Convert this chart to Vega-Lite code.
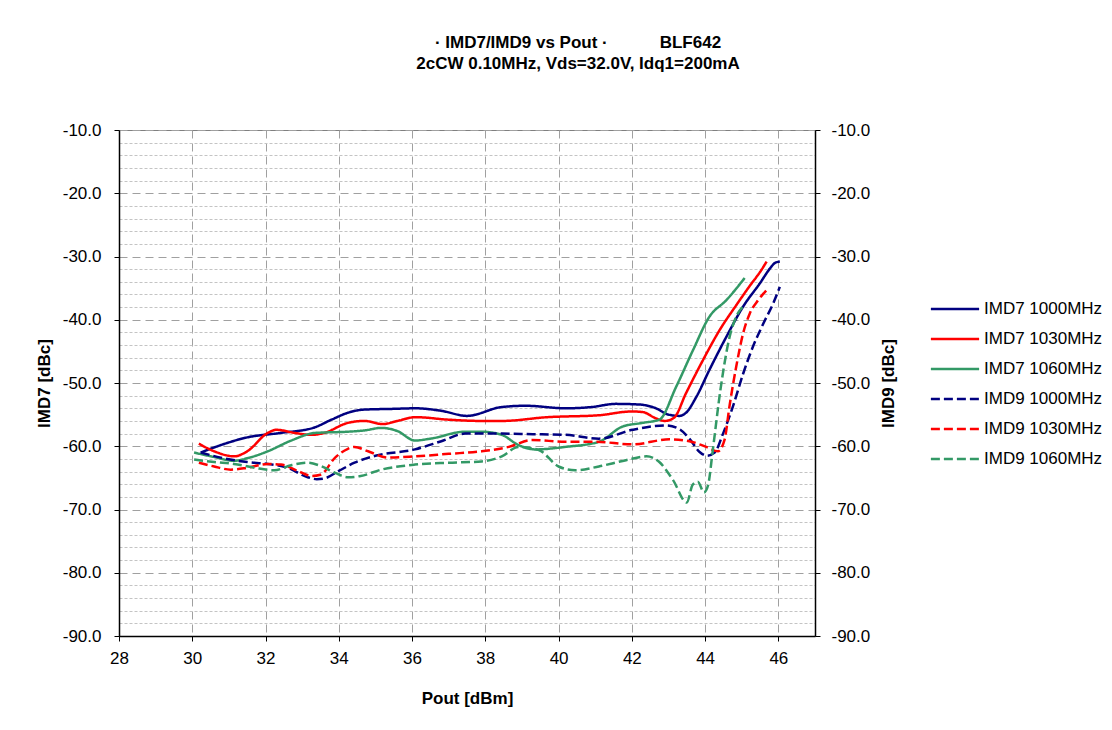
{
  "$schema": "https://vega.github.io/schema/vega-lite/v6.json",
  "width": 696,
  "height": 506,
  "autosize": {"type": "none"},
  "padding": {"left": 119, "top": 130, "right": 297, "bottom": 94},
  "background": "white",
  "title": {
    "text": ["· IMD7/IMD9 vs Pout ·\u00a0\u00a0\u00a0\u00a0\u00a0\u00a0\u00a0\u00a0\u00a0\u00a0\u00a0BLF642", "2cCW 0.10MHz, Vds=32.0V, Idq1=200mA"],
    "font": "Liberation Sans",
    "fontSize": 17,
    "fontWeight": "bold",
    "color": "black",
    "anchor": "middle",
    "dx": 111,
    "offset": 48,
    "lineHeight": 21
  },
  "config": {
    "font": "Liberation Sans",
    "view": {"stroke": "#808080"},
    "legend": {
      "orient": "none",
      "legendX": 814,
      "legendY": 157,
      "labelFont": "Liberation Sans",
      "labelFontSize": 17,
      "labelColor": "black",
      "symbolType": "M-1.17,0H1.17",
      "symbolSize": 1700,
      "symbolStrokeWidth": 2.5,
      "labelOffset": 7,
      "rowPadding": -5.2,
      "labelLimit": 300
    }
  },
  "datasets": {
    "imd7": [
      {"s": "IMD7 1000MHz", "x": 30.23, "y": -61.0},
      {"s": "IMD7 1000MHz", "x": 30.69, "y": -60.0},
      {"s": "IMD7 1000MHz", "x": 31.5, "y": -58.6},
      {"s": "IMD7 1000MHz", "x": 32.4, "y": -57.9},
      {"s": "IMD7 1000MHz", "x": 33.3, "y": -57.1},
      {"s": "IMD7 1000MHz", "x": 33.8, "y": -55.8},
      {"s": "IMD7 1000MHz", "x": 34.25, "y": -54.7},
      {"s": "IMD7 1000MHz", "x": 34.7, "y": -54.2},
      {"s": "IMD7 1000MHz", "x": 35.4, "y": -54.1},
      {"s": "IMD7 1000MHz", "x": 36.1, "y": -54.0},
      {"s": "IMD7 1000MHz", "x": 36.8, "y": -54.4},
      {"s": "IMD7 1000MHz", "x": 37.5, "y": -55.2},
      {"s": "IMD7 1000MHz", "x": 38.45, "y": -53.8},
      {"s": "IMD7 1000MHz", "x": 39.1, "y": -53.6},
      {"s": "IMD7 1000MHz", "x": 40.2, "y": -54.0},
      {"s": "IMD7 1000MHz", "x": 40.9, "y": -53.8},
      {"s": "IMD7 1000MHz", "x": 41.56, "y": -53.3},
      {"s": "IMD7 1000MHz", "x": 42.2, "y": -53.4},
      {"s": "IMD7 1000MHz", "x": 42.66, "y": -54.0},
      {"s": "IMD7 1000MHz", "x": 43.0, "y": -55.0},
      {"s": "IMD7 1000MHz", "x": 43.3, "y": -55.2},
      {"s": "IMD7 1000MHz", "x": 43.48, "y": -54.7},
      {"s": "IMD7 1000MHz", "x": 43.76, "y": -52.2},
      {"s": "IMD7 1000MHz", "x": 44.12, "y": -47.9},
      {"s": "IMD7 1000MHz", "x": 44.58, "y": -42.7},
      {"s": "IMD7 1000MHz", "x": 45.04, "y": -37.9},
      {"s": "IMD7 1000MHz", "x": 45.5, "y": -34.2},
      {"s": "IMD7 1000MHz", "x": 45.77, "y": -31.9},
      {"s": "IMD7 1000MHz", "x": 45.91, "y": -31.0},
      {"s": "IMD7 1000MHz", "x": 46.04, "y": -30.8},

      {"s": "IMD7 1030MHz", "x": 30.18, "y": -59.6},
      {"s": "IMD7 1030MHz", "x": 30.6, "y": -60.8},
      {"s": "IMD7 1030MHz", "x": 31.14, "y": -61.6},
      {"s": "IMD7 1030MHz", "x": 31.5, "y": -60.8},
      {"s": "IMD7 1030MHz", "x": 32.06, "y": -57.9},
      {"s": "IMD7 1030MHz", "x": 32.3, "y": -57.4},
      {"s": "IMD7 1030MHz", "x": 32.8, "y": -57.9},
      {"s": "IMD7 1030MHz", "x": 33.25, "y": -58.2},
      {"s": "IMD7 1030MHz", "x": 33.6, "y": -57.9},
      {"s": "IMD7 1030MHz", "x": 34.25, "y": -56.3},
      {"s": "IMD7 1030MHz", "x": 34.7, "y": -56.0},
      {"s": "IMD7 1030MHz", "x": 35.2, "y": -56.5},
      {"s": "IMD7 1030MHz", "x": 35.6, "y": -56.0},
      {"s": "IMD7 1030MHz", "x": 36.1, "y": -55.4},
      {"s": "IMD7 1030MHz", "x": 37.0, "y": -55.8},
      {"s": "IMD7 1030MHz", "x": 37.9, "y": -56.0},
      {"s": "IMD7 1030MHz", "x": 38.45, "y": -56.0},
      {"s": "IMD7 1030MHz", "x": 39.7, "y": -55.4},
      {"s": "IMD7 1030MHz", "x": 41.1, "y": -55.1},
      {"s": "IMD7 1030MHz", "x": 42.0, "y": -54.5},
      {"s": "IMD7 1030MHz", "x": 42.3, "y": -54.6},
      {"s": "IMD7 1030MHz", "x": 42.66, "y": -55.6},
      {"s": "IMD7 1030MHz", "x": 42.9, "y": -56.0},
      {"s": "IMD7 1030MHz", "x": 43.15, "y": -55.5},
      {"s": "IMD7 1030MHz", "x": 43.48, "y": -51.6},
      {"s": "IMD7 1030MHz", "x": 43.94, "y": -46.4},
      {"s": "IMD7 1030MHz", "x": 44.4, "y": -41.6},
      {"s": "IMD7 1030MHz", "x": 44.85, "y": -37.7},
      {"s": "IMD7 1030MHz", "x": 45.2, "y": -34.8},
      {"s": "IMD7 1030MHz", "x": 45.54, "y": -32.1},
      {"s": "IMD7 1030MHz", "x": 45.68, "y": -30.8},

      {"s": "IMD7 1060MHz", "x": 30.05, "y": -61.0},
      {"s": "IMD7 1060MHz", "x": 30.6, "y": -61.7},
      {"s": "IMD7 1060MHz", "x": 31.14, "y": -62.3},
      {"s": "IMD7 1060MHz", "x": 31.5, "y": -61.9},
      {"s": "IMD7 1060MHz", "x": 32.06, "y": -60.8},
      {"s": "IMD7 1060MHz", "x": 32.7, "y": -59.1},
      {"s": "IMD7 1060MHz", "x": 33.34, "y": -57.9},
      {"s": "IMD7 1060MHz", "x": 34.25, "y": -57.7},
      {"s": "IMD7 1060MHz", "x": 34.7, "y": -57.5},
      {"s": "IMD7 1060MHz", "x": 35.16, "y": -57.1},
      {"s": "IMD7 1060MHz", "x": 35.6, "y": -57.6},
      {"s": "IMD7 1060MHz", "x": 36.08, "y": -59.1},
      {"s": "IMD7 1060MHz", "x": 36.5, "y": -58.8},
      {"s": "IMD7 1060MHz", "x": 37.45, "y": -57.7},
      {"s": "IMD7 1060MHz", "x": 37.9, "y": -57.7},
      {"s": "IMD7 1060MHz", "x": 38.45, "y": -58.2},
      {"s": "IMD7 1060MHz", "x": 38.9, "y": -59.8},
      {"s": "IMD7 1060MHz", "x": 39.37, "y": -60.5},
      {"s": "IMD7 1060MHz", "x": 40.19, "y": -60.1},
      {"s": "IMD7 1060MHz", "x": 41.1, "y": -59.3},
      {"s": "IMD7 1060MHz", "x": 41.74, "y": -56.9},
      {"s": "IMD7 1060MHz", "x": 42.3, "y": -56.3},
      {"s": "IMD7 1060MHz", "x": 42.75, "y": -55.8},
      {"s": "IMD7 1060MHz", "x": 43.21, "y": -50.6},
      {"s": "IMD7 1060MHz", "x": 43.67, "y": -44.8},
      {"s": "IMD7 1060MHz", "x": 44.12, "y": -39.5},
      {"s": "IMD7 1060MHz", "x": 44.58, "y": -36.9},
      {"s": "IMD7 1060MHz", "x": 45.08, "y": -33.4}
    ],
    "imd9": [
      {"s": "IMD9 1000MHz", "x": 30.23, "y": -61.0},
      {"s": "IMD9 1000MHz", "x": 30.78, "y": -61.8},
      {"s": "IMD9 1000MHz", "x": 31.5, "y": -62.5},
      {"s": "IMD9 1000MHz", "x": 32.06, "y": -62.8},
      {"s": "IMD9 1000MHz", "x": 32.6, "y": -63.4},
      {"s": "IMD9 1000MHz", "x": 33.15, "y": -64.9},
      {"s": "IMD9 1000MHz", "x": 33.4, "y": -65.2},
      {"s": "IMD9 1000MHz", "x": 33.6, "y": -65.1},
      {"s": "IMD9 1000MHz", "x": 34.0, "y": -63.9},
      {"s": "IMD9 1000MHz", "x": 34.43, "y": -62.6},
      {"s": "IMD9 1000MHz", "x": 35.0, "y": -61.5},
      {"s": "IMD9 1000MHz", "x": 36.08, "y": -60.5},
      {"s": "IMD9 1000MHz", "x": 36.8, "y": -59.2},
      {"s": "IMD9 1000MHz", "x": 37.45, "y": -58.0},
      {"s": "IMD9 1000MHz", "x": 38.45, "y": -58.0},
      {"s": "IMD9 1000MHz", "x": 39.3, "y": -58.1},
      {"s": "IMD9 1000MHz", "x": 40.19, "y": -58.2},
      {"s": "IMD9 1000MHz", "x": 41.1, "y": -58.8},
      {"s": "IMD9 1000MHz", "x": 42.02, "y": -57.4},
      {"s": "IMD9 1000MHz", "x": 42.93, "y": -56.7},
      {"s": "IMD9 1000MHz", "x": 43.3, "y": -57.3},
      {"s": "IMD9 1000MHz", "x": 43.57, "y": -58.8},
      {"s": "IMD9 1000MHz", "x": 43.85, "y": -60.9},
      {"s": "IMD9 1000MHz", "x": 44.05, "y": -61.5},
      {"s": "IMD9 1000MHz", "x": 44.26, "y": -61.0},
      {"s": "IMD9 1000MHz", "x": 44.49, "y": -58.0},
      {"s": "IMD9 1000MHz", "x": 44.76, "y": -53.7},
      {"s": "IMD9 1000MHz", "x": 45.04, "y": -48.5},
      {"s": "IMD9 1000MHz", "x": 45.31, "y": -44.2},
      {"s": "IMD9 1000MHz", "x": 45.59, "y": -40.6},
      {"s": "IMD9 1000MHz", "x": 45.86, "y": -37.4},
      {"s": "IMD9 1000MHz", "x": 46.04, "y": -34.8},

      {"s": "IMD9 1030MHz", "x": 30.18, "y": -62.6},
      {"s": "IMD9 1030MHz", "x": 30.6, "y": -63.2},
      {"s": "IMD9 1030MHz", "x": 31.05, "y": -63.7},
      {"s": "IMD9 1030MHz", "x": 31.5, "y": -63.4},
      {"s": "IMD9 1030MHz", "x": 32.06, "y": -62.8},
      {"s": "IMD9 1030MHz", "x": 32.42, "y": -62.9},
      {"s": "IMD9 1030MHz", "x": 32.88, "y": -63.9},
      {"s": "IMD9 1030MHz", "x": 33.25, "y": -64.7},
      {"s": "IMD9 1030MHz", "x": 33.5, "y": -64.5},
      {"s": "IMD9 1030MHz", "x": 33.9, "y": -61.8},
      {"s": "IMD9 1030MHz", "x": 34.25, "y": -60.4},
      {"s": "IMD9 1030MHz", "x": 34.43, "y": -60.1},
      {"s": "IMD9 1030MHz", "x": 34.8, "y": -60.8},
      {"s": "IMD9 1030MHz", "x": 35.35, "y": -61.8},
      {"s": "IMD9 1030MHz", "x": 36.08, "y": -61.6},
      {"s": "IMD9 1030MHz", "x": 37.0, "y": -61.2},
      {"s": "IMD9 1030MHz", "x": 37.9, "y": -60.8},
      {"s": "IMD9 1030MHz", "x": 38.64, "y": -60.1},
      {"s": "IMD9 1030MHz", "x": 39.28, "y": -59.0},
      {"s": "IMD9 1030MHz", "x": 40.19, "y": -59.3},
      {"s": "IMD9 1030MHz", "x": 41.01, "y": -59.3},
      {"s": "IMD9 1030MHz", "x": 42.02, "y": -59.7},
      {"s": "IMD9 1030MHz", "x": 43.03, "y": -58.9},
      {"s": "IMD9 1030MHz", "x": 43.57, "y": -59.2},
      {"s": "IMD9 1030MHz", "x": 44.03, "y": -60.1},
      {"s": "IMD9 1030MHz", "x": 44.35, "y": -60.8},
      {"s": "IMD9 1030MHz", "x": 44.53, "y": -59.0},
      {"s": "IMD9 1030MHz", "x": 44.67, "y": -53.5},
      {"s": "IMD9 1030MHz", "x": 44.85, "y": -47.4},
      {"s": "IMD9 1030MHz", "x": 45.04, "y": -42.1},
      {"s": "IMD9 1030MHz", "x": 45.22, "y": -39.0},
      {"s": "IMD9 1030MHz", "x": 45.45, "y": -36.9},
      {"s": "IMD9 1030MHz", "x": 45.68, "y": -35.3},

      {"s": "IMD9 1060MHz", "x": 30.05, "y": -62.1},
      {"s": "IMD9 1060MHz", "x": 30.6, "y": -62.5},
      {"s": "IMD9 1060MHz", "x": 31.14, "y": -62.8},
      {"s": "IMD9 1060MHz", "x": 31.7, "y": -63.4},
      {"s": "IMD9 1060MHz", "x": 32.24, "y": -63.8},
      {"s": "IMD9 1060MHz", "x": 32.7, "y": -63.0},
      {"s": "IMD9 1060MHz", "x": 33.15, "y": -62.6},
      {"s": "IMD9 1060MHz", "x": 33.5, "y": -63.1},
      {"s": "IMD9 1060MHz", "x": 33.9, "y": -64.2},
      {"s": "IMD9 1060MHz", "x": 34.25, "y": -64.9},
      {"s": "IMD9 1060MHz", "x": 34.6, "y": -64.7},
      {"s": "IMD9 1060MHz", "x": 35.16, "y": -63.7},
      {"s": "IMD9 1060MHz", "x": 36.08, "y": -62.9},
      {"s": "IMD9 1060MHz", "x": 37.0, "y": -62.6},
      {"s": "IMD9 1060MHz", "x": 37.9, "y": -62.4},
      {"s": "IMD9 1060MHz", "x": 38.45, "y": -61.6},
      {"s": "IMD9 1060MHz", "x": 38.9, "y": -60.1},
      {"s": "IMD9 1060MHz", "x": 39.46, "y": -60.6},
      {"s": "IMD9 1060MHz", "x": 40.0, "y": -63.2},
      {"s": "IMD9 1060MHz", "x": 40.46, "y": -63.8},
      {"s": "IMD9 1060MHz", "x": 41.1, "y": -63.2},
      {"s": "IMD9 1060MHz", "x": 41.84, "y": -62.2},
      {"s": "IMD9 1060MHz", "x": 42.4, "y": -61.6},
      {"s": "IMD9 1060MHz", "x": 42.75, "y": -62.5},
      {"s": "IMD9 1060MHz", "x": 43.12, "y": -65.3},
      {"s": "IMD9 1060MHz", "x": 43.5, "y": -68.9},
      {"s": "IMD9 1060MHz", "x": 43.66, "y": -66.1},
      {"s": "IMD9 1060MHz", "x": 43.8, "y": -65.6},
      {"s": "IMD9 1060MHz", "x": 43.97, "y": -67.3},
      {"s": "IMD9 1060MHz", "x": 44.08, "y": -66.2},
      {"s": "IMD9 1060MHz", "x": 44.21, "y": -60.6},
      {"s": "IMD9 1060MHz", "x": 44.42, "y": -51.0},
      {"s": "IMD9 1060MHz", "x": 44.67, "y": -42.7},
      {"s": "IMD9 1060MHz", "x": 44.85, "y": -39.5},
      {"s": "IMD9 1060MHz", "x": 45.04, "y": -37.9}
    ]
  },
  "layer": [
    {
      "data": {"name": "imd7"},
      "mark": {"type": "line", "strokeWidth": 2.5, "interpolate": "monotone", "clip": true},
      "encoding": {
        "x": {
          "field": "x", "type": "quantitative",
          "scale": {"domain": [28, 47], "nice": false, "zero": false},
          "axis": {
            "title": "Pout [dBm]",
            "titleFont": "Liberation Sans", "titleFontSize": 17, "titleFontWeight": "bold", "titleColor": "black",
            "titlePadding": 24,
            "values": [28,28.5,29,29.5,30,30.5,31,31.5,32,32.5,33,33.5,34,34.5,35,35.5,36,36.5,37,37.5,38,38.5,39,39.5,40,40.5,41,41.5,42,42.5,43,43.5,44,44.5,45,45.5,46,46.5,47],
            "labelExpr": "datum.value % 2 === 0 ? datum.label : ''",
            "labelFont": "Liberation Sans", "labelFontSize": 17, "labelColor": "black",
            "labelPadding": 9, "labelFlush": false, "labelOverlap": false,
            "domainColor": "black", "domainWidth": 1.5,
            "tickColor": "black", "tickSize": 5,
            "tickOpacity": {"condition": {"test": "datum.value % 2 === 0", "value": 1}, "value": 0},
            "grid": true,
            "gridColor": {"condition": {"test": "datum.value % 2 === 0", "value": "#a0a0a0"}, "value": "#c4c4c4"},
            "gridDash": {"condition": {"test": "datum.value % 2 === 0", "value": [8, 5]}, "value": [3, 2]},
            "gridWidth": 1
          }
        },
        "y": {
          "field": "y", "type": "quantitative",
          "scale": {"domain": [-90, -10], "nice": false, "zero": false},
          "axis": {
            "orient": "left",
            "title": "IMD7 [dBc]",
            "titleFont": "Liberation Sans", "titleFontSize": 17, "titleFontWeight": "bold", "titleColor": "black",
            "titlePadding": 9,
            "values": [-90,-88,-86,-84,-82,-80,-78,-76,-74,-72,-70,-68,-66,-64,-62,-60,-58,-56,-54,-52,-50,-48,-46,-44,-42,-40,-38,-36,-34,-32,-30,-28,-26,-24,-22,-20,-18,-16,-14,-12,-10],
            "labelExpr": "datum.value % 10 === 0 ? replace(format(datum.value, '.1f'), '\u2212', '-') : ''",
            "labelFont": "Liberation Sans", "labelFontSize": 17, "labelColor": "black",
            "labelPadding": 13, "labelFlush": false, "labelOverlap": false,
            "domainColor": "black", "domainWidth": 1.5,
            "tickColor": "black", "tickSize": 5,
            "tickOpacity": {"condition": {"test": "datum.value % 10 === 0", "value": 1}, "value": 0},
            "grid": true,
            "gridColor": {"condition": {"test": "datum.value % 10 === 0", "value": "#a0a0a0"}, "value": "#c4c4c4"},
            "gridDash": {"condition": {"test": "datum.value % 10 === 0", "value": [8, 5]}, "value": [3, 2]},
            "gridWidth": 1
          }
        },
        "color": {
          "field": "s", "type": "nominal", "title": null,
          "scale": {
            "domain": ["IMD7 1000MHz", "IMD7 1030MHz", "IMD7 1060MHz", "IMD9 1000MHz", "IMD9 1030MHz", "IMD9 1060MHz"],
            "range": ["#000080", "#ff0000", "#339966", "#000080", "#ff0000", "#339966"]
          }
        },
        "strokeDash": {
          "field": "s", "type": "nominal", "title": null,
          "scale": {
            "domain": ["IMD7 1000MHz", "IMD7 1030MHz", "IMD7 1060MHz", "IMD9 1000MHz", "IMD9 1030MHz", "IMD9 1060MHz"],
            "range": [[1, 0], [1, 0], [1, 0], [9, 4], [9, 4], [9, 4]]
          }
        }
      }
    },
    {
      "data": {"name": "imd9"},
      "mark": {"type": "line", "strokeWidth": 2.5, "interpolate": "monotone", "clip": true},
      "encoding": {
        "x": {"field": "x", "type": "quantitative"},
        "y": {
          "field": "y", "type": "quantitative",
          "axis": {
            "orient": "right",
            "title": "IMD9 [dBc]",
            "titleAngle": 270,
            "titleBaseline": "top",
            "titleFont": "Liberation Sans", "titleFontSize": 17, "titleFontWeight": "bold", "titleColor": "black",
            "titlePadding": 11,
            "values": [-90,-80,-70,-60,-50,-40,-30,-20,-10],
            "labelExpr": "replace(format(datum.value, '.1f'), '\u2212', '-')",
            "labelFont": "Liberation Sans", "labelFontSize": 17, "labelColor": "black",
            "labelPadding": 11, "labelFlush": false, "labelOverlap": false,
            "domainColor": "black", "domainWidth": 1.5,
            "tickColor": "black", "tickSize": 5,
            "grid": false
          }
        },
        "color": {"field": "s", "type": "nominal", "title": null},
        "strokeDash": {"field": "s", "type": "nominal", "title": null}
      }
    }
  ],
  "resolve": {"axis": {"y": "independent"}}
}
